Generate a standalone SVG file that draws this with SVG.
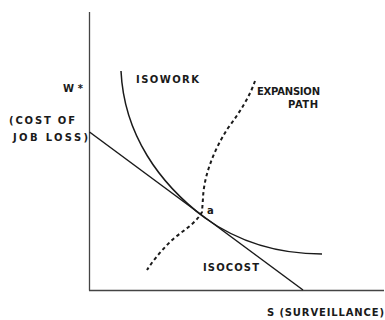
<svg xmlns="http://www.w3.org/2000/svg" width="385" height="320" viewBox="0 0 385 320">
<style>
.t{font-family:"DejaVu Sans","Liberation Sans",sans-serif;font-size:10px;font-weight:bold;fill:#1a1a1a}
.ax{stroke:#444;stroke-width:1.3;fill:none}
.ln{stroke:#1a1a1a;stroke-width:1.5;fill:none}
.dot{stroke:#1a1a1a;stroke-width:2;fill:none;stroke-dasharray:3.5 3}
</style>
<rect width="385" height="320" fill="#fff"/>
<g id="axes">
<line class="ax" x1="89.5" y1="12" x2="89.5" y2="290.5"/>
<line class="ax" x1="89" y1="290.5" x2="384" y2="290.5"/>
</g>
<g id="connectors">
<line id="isocost-line" class="ln" x1="89.5" y1="132" x2="303" y2="290"/>
<path id="isowork-curve" class="ln" d="M121,71 C124,135 160,184 205,218 C240,243 280,254 322,254"/>
<path id="expansion-path" class="dot" d="M255,81 C250,96 240,112 228,128 C214,150 204,175 203,198 L202,212 C195,225 180,232 170,242 C160,252 152,262 147,270"/>
</g>
<g id="labels">
<text class="t" x="63" y="92" textLength="20" lengthAdjust="spacing">W*</text>
<text class="t" x="9" y="124" textLength="66" lengthAdjust="spacing">(COST OF</text>
<text class="t" x="13" y="141" textLength="75" lengthAdjust="spacing">JOB LOSS)</text>
<text class="t" x="136" y="83" textLength="63" lengthAdjust="spacing">ISOWORK</text>
<text class="t" x="257" y="95" textLength="63" lengthAdjust="spacing">EXPANSION</text>
<text class="t" x="288" y="108" textLength="30" lengthAdjust="spacing">PATH</text>
<text class="t" x="207" y="214" style="font-size:10px">a</text>
<text class="t" x="203" y="271" textLength="56" lengthAdjust="spacing">ISOCOST</text>
<text class="t" x="267" y="316" textLength="117" lengthAdjust="spacing">S (SURVEILLANCE)</text>
</g>
</svg>
